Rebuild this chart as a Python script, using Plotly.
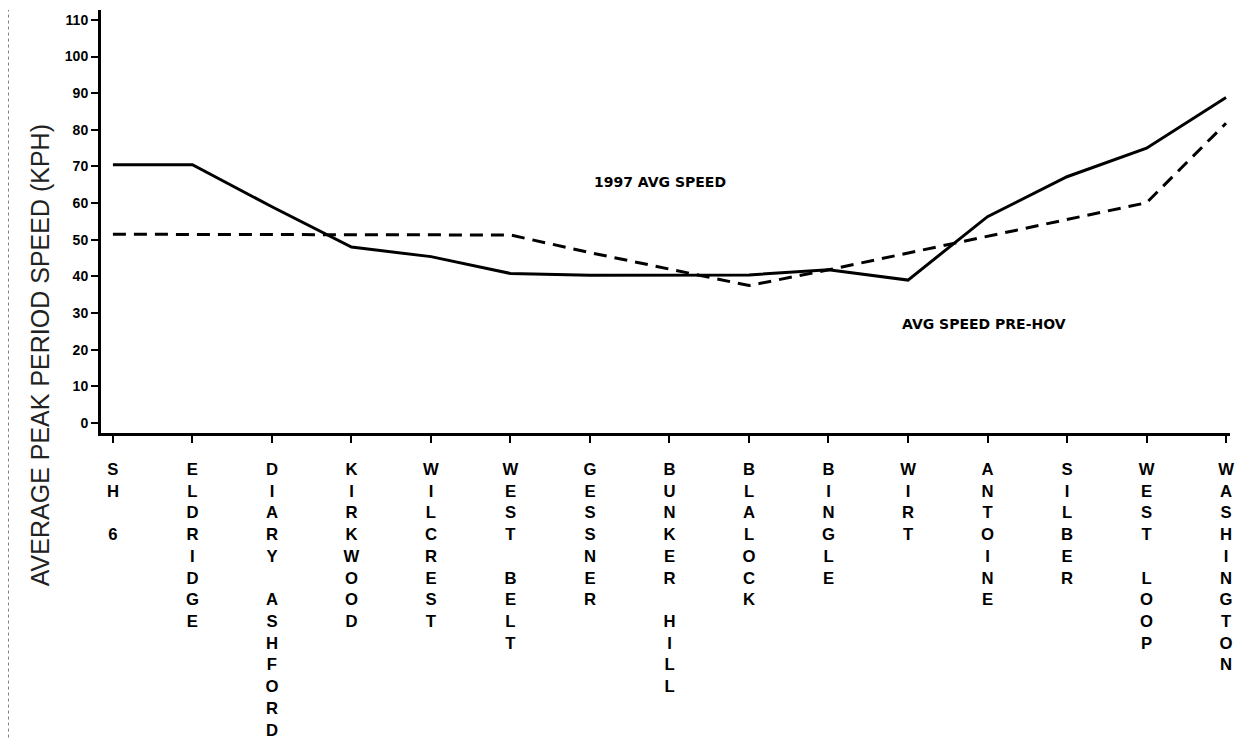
import plotly.graph_objects as go

locations = ["SH 6", "ELDRIDGE", "DIARY ASHFORD", "KIRKWOOD", "WILCREST", "WEST BELT",
             "GESSNER", "BUNKER HILL", "BLALOCK", "BINGLE", "WIRT", "ANTOINE",
             "SILBER", "WEST LOOP", "WASHINGTON"]
speed_1997 = [70.5, 70.5, 59.0, 48.0, 45.4, 40.8, 40.3, 40.4, 40.4, 41.8, 39.0, 56.3, 67.2, 75.0, 88.8]
speed_pre_hov = [51.5, 51.5, 51.5, 51.5, 51.5, 51.3, 46.5, 42.0, 37.5, 41.8, 46.4, 51.0, 55.4, 60.1, 81.8]
y_ticks = list(range(0, 111, 10))

def stack(label):
    return "<br>".join(ch if ch != " " else "\u00a0" for ch in label)

x = list(range(len(locations)))

fig = go.Figure()
fig.add_trace(go.Scatter(x=x, y=speed_1997, mode="lines",
                         line=dict(color="black", width=3), name="1997 AVG SPEED"))
fig.add_trace(go.Scatter(x=x, y=speed_pre_hov, mode="lines",
                         line=dict(color="black", width=3, dash="13px,8px"),
                         name="AVG SPEED PRE-HOV"))

fig.add_annotation(x=6.88, y=65.8, text="1997 AVG SPEED", showarrow=False,
                   font=dict(family="DejaVu Sans", size=14, color="black", weight="bold"))
fig.add_annotation(x=10.96, y=27.0, text="AVG SPEED PRE-HOV", showarrow=False,
                   font=dict(family="DejaVu Sans", size=14, color="black", weight="bold"))

# y-axis title placed as rotated text
fig.add_annotation(xref="paper", yref="paper", x=-0.054, y=0.184,
                   text="AVERAGE PEAK PERIOD SPEED (KPH)", textangle=-90, showarrow=False,
                   xanchor="center", yanchor="middle",
                   font=dict(family="Liberation Sans", size=25, color="#222"))

# page body has an 8px margin, so the figure is sized to fit inside the window
fig.update_layout(
    width=1227, height=732,
    margin=dict(l=93, r=5, t=2, b=307),
    paper_bgcolor="white", plot_bgcolor="white",
    showlegend=False,
    font=dict(family="Liberation Sans", color="black"),
)
fig.update_xaxes(
    range=[-0.15, 14.05], automargin=False,
    tickmode="array", tickvals=x, ticktext=[stack(l) for l in locations],
    tickangle=0, ticklabelstandoff=12,
    showline=True, linecolor="black", linewidth=3,
    ticks="outside", ticklen=7, tickwidth=1.5, tickcolor="black",
    showgrid=False, zeroline=False,
    tickfont=dict(family="Liberation Sans", size=16.7, color="black", weight="bold"),
)
fig.update_yaxes(
    range=[-2.73, 112.7], automargin=False,
    tickmode="array", tickvals=y_ticks, ticktext=[str(v) for v in y_ticks],
    showline=True, linecolor="black", linewidth=3,
    ticks="outside", ticklen=7, tickwidth=1.5, tickcolor="black",
    showgrid=False, zeroline=False,
    tickfont=dict(family="Liberation Sans", size=14, color="black", weight="bold"),
)
fig.add_shape(type="line", xref="paper", yref="paper", x0=-0.082, x1=-0.082, y0=-0.72, y1=1.0,
              line=dict(color="#777", width=1, dash="dot"))

fig.write_html("out.html")
